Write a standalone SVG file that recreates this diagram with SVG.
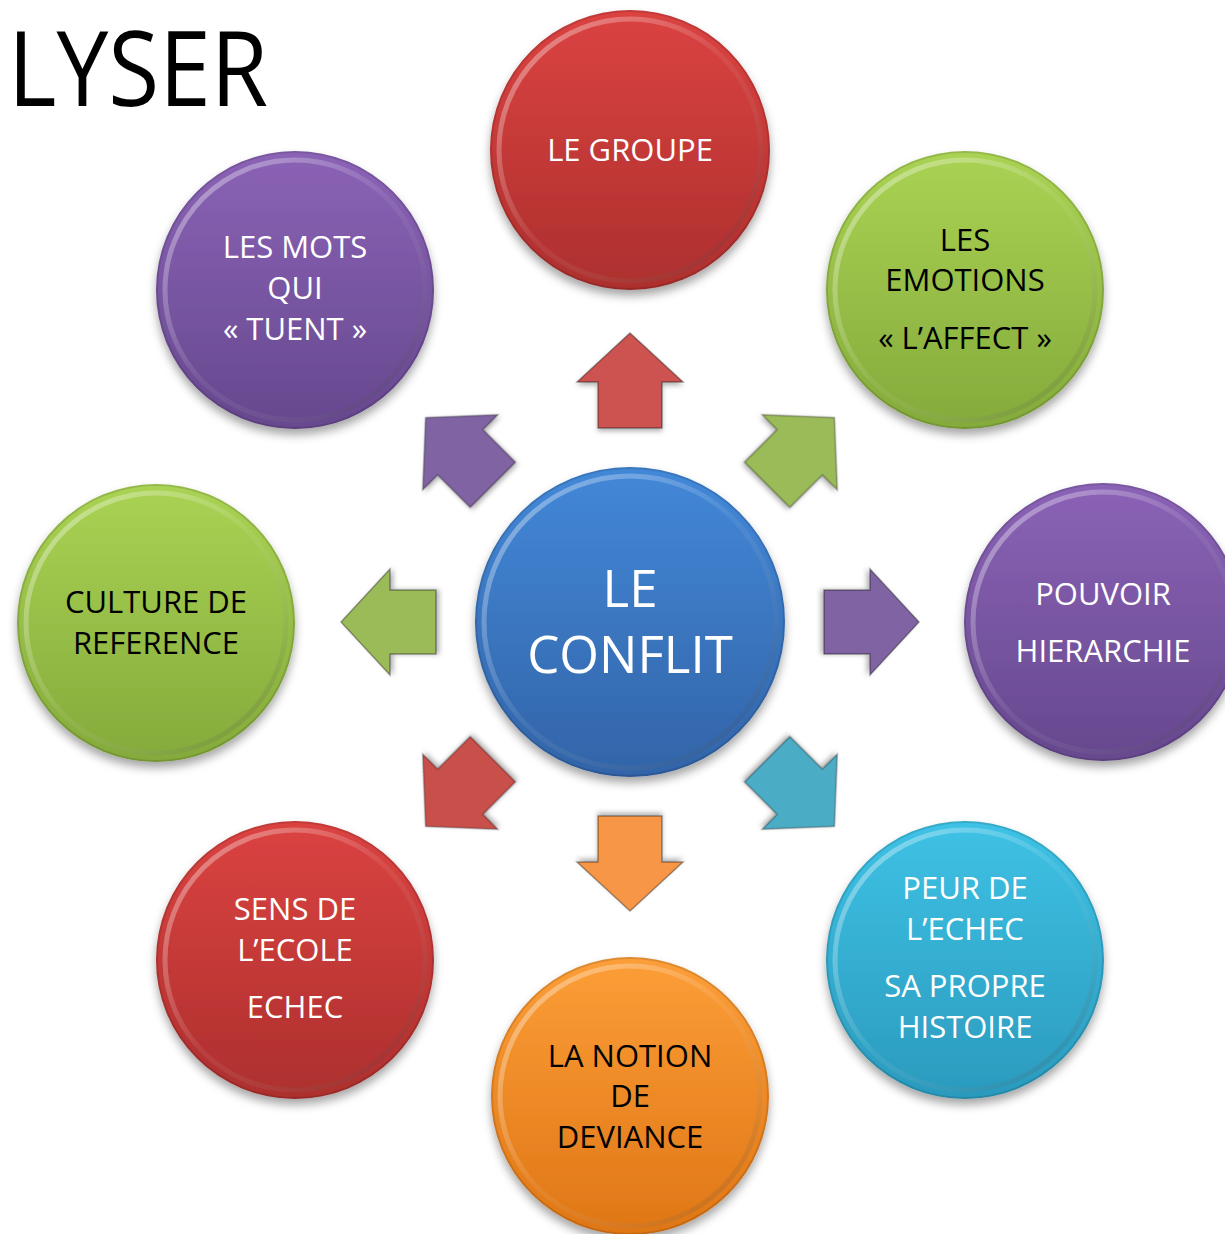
<svg xmlns="http://www.w3.org/2000/svg" width="1225" height="1234" viewBox="0 0 1225 1234">
<defs>
<style>
.t{font-family:"Open Sans","Noto Sans","Liberation Sans",sans-serif;font-size:31px;text-anchor:middle}
.big{font-size:51px}
.w{fill:#ffffff}
.k{fill:#000000}
.rim{fill:none;stroke:url(#rimG);stroke-width:5}
.edge{fill:none;stroke:#000;stroke-opacity:0.12;stroke-width:2}
.arr{stroke-width:1.5;stroke-opacity:0.35;stroke:#000;filter:url(#ash)}
</style>
<linearGradient id="gRed" x1="0" y1="0" x2="0" y2="1"><stop offset="0" stop-color="#db4341"/><stop offset="1" stop-color="#ad2f2e"/></linearGradient>
<linearGradient id="gBlue" x1="0" y1="0" x2="0" y2="1"><stop offset="0" stop-color="#4388d8"/><stop offset="1" stop-color="#3264a8"/></linearGradient>
<linearGradient id="gGreen" x1="0" y1="0" x2="0" y2="1"><stop offset="0" stop-color="#aad354"/><stop offset="1" stop-color="#84aa3b"/></linearGradient>
<linearGradient id="gPurple" x1="0" y1="0" x2="0" y2="1"><stop offset="0" stop-color="#8b63b6"/><stop offset="1" stop-color="#66488e"/></linearGradient>
<linearGradient id="gCyan" x1="0" y1="0" x2="0" y2="1"><stop offset="0" stop-color="#3ec2e5"/><stop offset="1" stop-color="#2b9abd"/></linearGradient>
<linearGradient id="gOrange" x1="0" y1="0" x2="0" y2="1"><stop offset="0" stop-color="#fc9e38"/><stop offset="1" stop-color="#df7615"/></linearGradient>
<linearGradient id="rimG" x1="0" y1="0" x2="1" y2="1"><stop offset="0" stop-color="#ffffff" stop-opacity="0.45"/><stop offset="0.5" stop-color="#ffffff" stop-opacity="0.06"/><stop offset="1" stop-color="#000000" stop-opacity="0.18"/></linearGradient>
<filter id="sh" x="-20%" y="-20%" width="140%" height="150%"><feDropShadow dx="0" dy="6" stdDeviation="5" flood-color="#000" flood-opacity="0.35"/></filter>
<filter id="ash" x="-30%" y="-30%" width="160%" height="160%"><feDropShadow dx="0" dy="3" stdDeviation="2.5" flood-color="#000" flood-opacity="0.3"/></filter>
<path id="arrow" d="M0,-289 L53,-240 L32,-240 L32,-194 L-32,-194 L-32,-240 L-53,-240 Z"/>
</defs>
<rect width="1225" height="1234" fill="#ffffff"/>
<text x="8" y="106" font-family="Open Sans, Noto Sans, sans-serif" font-size="104" textLength="260" lengthAdjust="spacingAndGlyphs" fill="#000">LYSER</text>

<g id="connectors">
<use href="#arrow" class="arr" fill="#cc524f" transform="translate(630,622)"/>
<use href="#arrow" class="arr" fill="#9bbb59" transform="translate(630,622) rotate(45)"/>
<use href="#arrow" class="arr" fill="#8064a2" transform="translate(630,622) rotate(90)"/>
<use href="#arrow" class="arr" fill="#4bacc6" transform="translate(630,622) rotate(135)"/>
<use href="#arrow" class="arr" fill="#f79646" transform="translate(630,622) rotate(180)"/>
<use href="#arrow" class="arr" fill="#c94f4c" transform="translate(630,622) rotate(225)"/>
<use href="#arrow" class="arr" fill="#9bbb59" transform="translate(630,622) rotate(270)"/>
<use href="#arrow" class="arr" fill="#8064a2" transform="translate(630,622) rotate(315)"/>
</g>

<g id="center">
<circle cx="630" cy="622" r="155" fill="url(#gBlue)" filter="url(#sh)"/>
<circle cx="630" cy="622" r="146" class="rim"/>
<circle cx="630" cy="622" r="154" class="edge"/>
<text class="t big w" x="630" y="607">LE</text>
<text class="t big w" x="630" y="673">CONFLIT</text>
</g>

<g id="groupe">
<circle cx="630" cy="150" r="140" fill="url(#gRed)" filter="url(#sh)"/>
<circle cx="630" cy="150" r="131" class="rim"/>
<circle cx="630" cy="150" r="139" class="edge"/>
<text class="t w" x="630" y="161">LE GROUPE</text>
</g>

<g id="emotions">
<circle cx="965" cy="290" r="139" fill="url(#gGreen)" filter="url(#sh)"/>
<circle cx="965" cy="290" r="130" class="rim"/>
<circle cx="965" cy="290" r="138" class="edge"/>
<text class="t k" x="965" y="251">LES</text>
<text class="t k" x="965" y="291">EMOTIONS</text>
<text class="t k" x="965" y="349">« L’AFFECT »</text>
</g>

<g id="pouvoir">
<circle cx="1103" cy="622" r="139" fill="url(#gPurple)" filter="url(#sh)"/>
<circle cx="1103" cy="622" r="130" class="rim"/>
<circle cx="1103" cy="622" r="138" class="edge"/>
<text class="t w" x="1103" y="605">POUVOIR</text>
<text class="t w" x="1103" y="662">HIERARCHIE</text>
</g>

<g id="peur">
<circle cx="965" cy="960" r="139" fill="url(#gCyan)" filter="url(#sh)"/>
<circle cx="965" cy="960" r="130" class="rim"/>
<circle cx="965" cy="960" r="138" class="edge"/>
<text class="t w" x="965" y="899">PEUR DE</text>
<text class="t w" x="965" y="940">L’ECHEC</text>
<text class="t w" x="965" y="997">SA PROPRE</text>
<text class="t w" x="965" y="1038">HISTOIRE</text>
</g>

<g id="deviance">
<circle cx="630" cy="1096" r="139" fill="url(#gOrange)" filter="url(#sh)"/>
<circle cx="630" cy="1096" r="130" class="rim"/>
<circle cx="630" cy="1096" r="138" class="edge"/>
<text class="t k" x="630" y="1067">LA NOTION</text>
<text class="t k" x="630" y="1107">DE</text>
<text class="t k" x="630" y="1148">DEVIANCE</text>
</g>

<g id="ecole">
<circle cx="295" cy="960" r="139" fill="url(#gRed)" filter="url(#sh)"/>
<circle cx="295" cy="960" r="130" class="rim"/>
<circle cx="295" cy="960" r="138" class="edge"/>
<text class="t w" x="295" y="920">SENS DE</text>
<text class="t w" x="295" y="961">L’ECOLE</text>
<text class="t w" x="295" y="1018">ECHEC</text>
</g>

<g id="culture">
<circle cx="156" cy="623" r="139" fill="url(#gGreen)" filter="url(#sh)"/>
<circle cx="156" cy="623" r="130" class="rim"/>
<circle cx="156" cy="623" r="138" class="edge"/>
<text class="t k" x="156" y="613">CULTURE DE</text>
<text class="t k" x="156" y="654">REFERENCE</text>
</g>

<g id="mots">
<circle cx="295" cy="290" r="139" fill="url(#gPurple)" filter="url(#sh)"/>
<circle cx="295" cy="290" r="130" class="rim"/>
<circle cx="295" cy="290" r="138" class="edge"/>
<text class="t w" x="295" y="258">LES MOTS</text>
<text class="t w" x="295" y="299">QUI</text>
<text class="t w" x="295" y="340">« TUENT »</text>
</g>
</svg>
